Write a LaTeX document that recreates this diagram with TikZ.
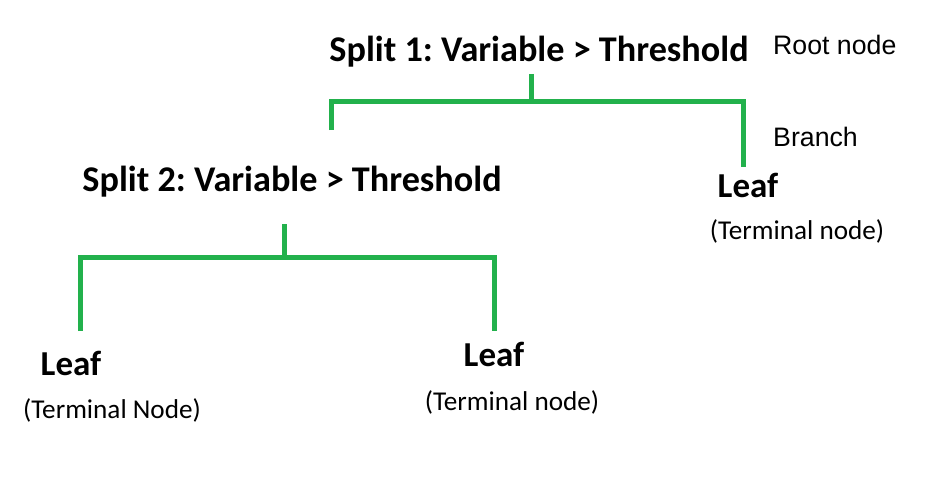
\documentclass[tikz,border=0pt]{standalone}
\usepackage{fontspec}
\setmainfont{Carlito}
\newfontfamily\arialfont{Liberation Sans}
\definecolor{branchgreen}{RGB}{34,177,76}
\frenchspacing
\begin{document}
\begin{tikzpicture}[x=1pt,y=-1pt,
  split/.style={inner sep=0pt,anchor=base,font=\fontsize{36.2}{40}\selectfont\bfseries},
  leaf/.style={inner sep=0pt,anchor=base,font=\fontsize{35}{40}\selectfont\bfseries},
  term/.style={inner sep=0pt,anchor=base,font=\fontsize{27.2}{30}\selectfont},
  note/.style={inner sep=0pt,anchor=base west,font=\arialfont\fontsize{26.7}{30}\selectfont},
  edge/.style={draw=branchgreen,line width=5pt}]
\useasboundingbox (0,0) rectangle (925,492);
% texts
\node[split] (s1) at (539,62) {Split 1: Variable > Threshold};
\node[split] (s2) at (292,191) {Split 2: Variable > Threshold};
\node[leaf] (l1) at (71,375) {Leaf};
\node[term] (t1) at (112,418) {(Terminal Node)};
\node[leaf] (l2) at (494,366) {Leaf};
\node[term] (t2) at (512,410) {(Terminal node)};
\node[leaf] (l3) at (748,197) {Leaf};
\node[term] (t3) at (797,239) {(Terminal node)};
\node[note] (rn) at (773,55) {Root node};
\node[note] (br) at (773,146) {Branch};
% junction coordinates
\coordinate (r0) at (531,74);
\coordinate (rj) at (531,102);
\coordinate (rl) at (331,102);
\coordinate (rr) at (743,102);
\coordinate (rle) at (331,130);
\coordinate (rre) at (743,167);
\coordinate (q0) at (284,224);
\coordinate (qj) at (284,257);
\coordinate (ql) at (80,257);
\coordinate (qr) at (494,257);
\coordinate (qle) at (80,331);
\coordinate (qre) at (494,331);
% connectors
\draw[edge] (r0) -- (rj);
\draw[edge] (rle) -- (rl) -- (rr) -- (rre);
\draw[edge] (q0) -- (qj);
\draw[edge] (qle) -- (ql) -- (qr) -- (qre);
\end{tikzpicture}
\end{document}
